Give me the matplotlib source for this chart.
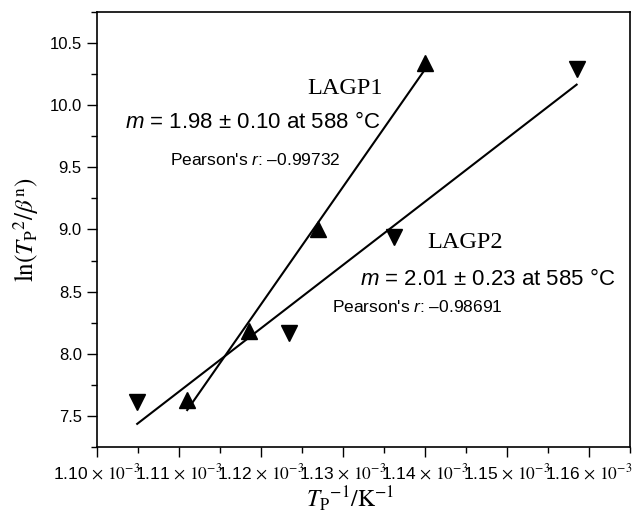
import matplotlib
matplotlib.use('Agg')
import matplotlib.pyplot as plt
from matplotlib.ticker import MultipleLocator, FuncFormatter
import numpy as np

plt.rcParams['font.family'] = ['Liberation Sans', 'DejaVu Sans']
plt.rcParams['mathtext.fontset'] = 'stix'
plt.rcParams['mathtext.rm'] = 'Liberation Sans'
plt.rcParams['mathtext.it'] = 'Liberation Sans:italic'

# data
lagp1_x = [1.1110e-3, 1.1185e-3, 1.1270e-3, 1.1400e-3]
lagp1_y = [7.63, 8.18, 9.00, 10.34]
lagp2_x = [1.1049e-3, 1.1234e-3, 1.1362e-3, 1.1585e-3]
lagp2_y = [7.61, 8.17, 8.94, 10.29]

labels = ['LAGP1', 'LAGP2']
slopes = [r'$m$ = 1.98 ± 0.10 at 588 °C', r'$m$ = 2.01 ± 0.23 at 585 °C']
pearson = [r"Pearson's $r$: –0.99732", r"Pearson's $r$: –0.98691"]

fig = plt.figure(figsize=(6.35, 5.17), dpi=100)
ax = fig.add_axes([0.1528, 0.1354, 0.8392, 0.8414])

ax.plot(lagp1_x, lagp1_y, linestyle='none', marker='^', ms=11.5, color='black')
ax.plot(lagp2_x, lagp2_y, linestyle='none', marker='v', ms=11.5, color='black')

# linear fits
for xs, ys in [(lagp1_x, lagp1_y), (lagp2_x, lagp2_y)]:
    k, b = np.polyfit(xs, ys, 1)
    xf = np.array([min(xs), max(xs)])
    ax.plot(xf, k * xf + b, color='black', lw=1.5)

ax.set_xlim(1.10e-3, 1.165e-3)
ax.set_ylim(7.25, 10.75)

ax.xaxis.set_major_locator(MultipleLocator(1e-5))
ax.xaxis.set_minor_locator(MultipleLocator(5e-6))
ax.yaxis.set_major_locator(MultipleLocator(0.5))
ax.yaxis.set_minor_locator(MultipleLocator(0.25))
ax.xaxis.set_major_formatter(FuncFormatter(
    lambda v, pos: '%.2f' % (v * 1e3) + r'$\,\times\,10^{-3}$'))
ax.yaxis.set_major_formatter(FuncFormatter(lambda v, pos: '%.1f' % v))

ax.tick_params(which='both', direction='out', top=False, right=False, width=1.0)
ax.tick_params(axis='y', labelsize=12)
ax.tick_params(axis='x', labelsize=12.5)
ax.tick_params(which='major', length=7, pad=4)
ax.tick_params(which='minor', length=4)
for s in ax.spines.values():
    s.set_linewidth(1.2)

ax.set_xlabel(r'$T_{\mathrm{P}}{}^{-1}/\mathrm{K}^{-1}$', fontsize=17)
ax.xaxis.set_label_coords(0.475, -0.085)
ax.set_ylabel(r'$\mathrm{ln}(T_{\mathrm{P}}{}^{2}/\beta^{\mathrm{n}})$', fontsize=18, labelpad=6)

ax.text(0.394, 0.823, labels[0], transform=ax.transAxes, ha='left', va='center',
        fontsize=17.5, family='Liberation Serif')
ax.text(0.0525, 0.747, slopes[0], transform=ax.transAxes, ha='left', va='center',
        fontsize=16, math_fontfamily='custom')
ax.text(0.137, 0.660, pearson[0], transform=ax.transAxes, ha='left', va='center',
        fontsize=12.5, math_fontfamily='custom')

ax.text(0.619, 0.471, labels[1], transform=ax.transAxes, ha='left', va='center',
        fontsize=17.5, family='Liberation Serif')
ax.text(0.493, 0.384, slopes[1], transform=ax.transAxes, ha='left', va='center',
        fontsize=16, math_fontfamily='custom')
ax.text(0.441, 0.322, pearson[1], transform=ax.transAxes, ha='left', va='center',
        fontsize=12.5, math_fontfamily='custom')

fig.savefig('out.png', dpi=100)
